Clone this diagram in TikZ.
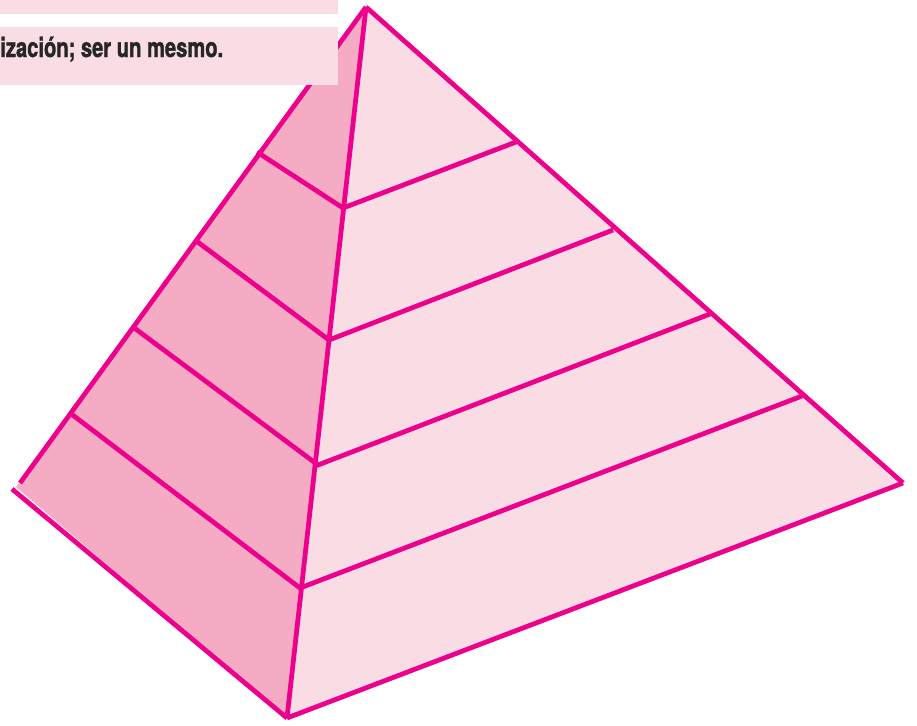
\documentclass[tikz,border=0pt]{standalone}
\usepackage{fontspec}
\newfontfamily\boxfont[FakeStretch=0.74,FakeBold=1.2]{TeX Gyre Heros}
\usetikzlibrary{positioning}
\definecolor{pyrline}{HTML}{EC008C}
\definecolor{pyrdark}{HTML}{F5ABC4}
\definecolor{pyrlight}{HTML}{FADCE5}

\begin{document}
\begin{tikzpicture}[x=0.02cm,y=-0.02cm,
    edge/.style={draw=pyrline, line width=0.095cm},
    textbox/.style={fill=pyrlight, draw=none}]
    \useasboundingbox (0,0) rectangle (917,725);
    % Corners
    \coordinate (A) at (366,7);
    \coordinate (L) at (16,487);
    \coordinate (B) at (287,718);
    \coordinate (R) at (903,483);
    % Points on the edges
    \coordinate (l1) at (257,152);
    \coordinate (l2) at (195,240);
    \coordinate (l3) at (133,327);
    \coordinate (l4) at (70,413);
    \coordinate (m1) at (343,208);
    \coordinate (m2) at (329,340);
    \coordinate (m3) at (318,465);
    \coordinate (m4) at (300,588);
    \coordinate (r1) at (516,142);
    \coordinate (r2) at (613,230);
    \coordinate (r3) at (710,314);
    \coordinate (r4) at (802,396);
    % Faces
    \fill[pyrdark] (A) -- (L) -- (B) -- cycle;
    \fill[pyrlight] (A) -- (B) -- (R) -- cycle;
    % Lines
    \draw[edge] (A) -- (20,483);
    \draw[edge] (12,489) -- (B);
    \draw[edge] (B) -- (R);
    \draw[edge] (R) -- (A);
    \draw[edge] (A) -- (B);
    \draw[edge] (l1) -- (m1) -- (r1);
    \draw[edge] (l2) -- (m2) -- (r2);
    \draw[edge] (l3) -- (m3) -- (r3);
    \draw[edge] (l4) -- (m4) -- (r4);
    % Boxes
    \fill[textbox] (0,0) rectangle (338,14);
    \fill[textbox] (0,27) rectangle (338,85);
    \node[anchor=base west, inner sep=0pt, font=\boxfont\bfseries\fontsize{15.5}{18}\selectfont,
      text=black!85] (txt) at (0,57) {ización; ser un mesmo.};
\end{tikzpicture}
\end{document}
